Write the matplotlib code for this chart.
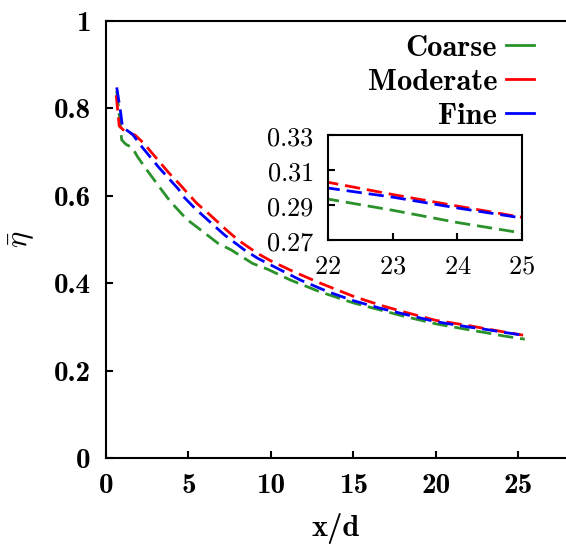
import numpy as np
import matplotlib
matplotlib.use('Agg')
import matplotlib.pyplot as plt
from matplotlib.lines import Line2D

plt.rcParams['mathtext.fontset'] = 'cm'
plt.rcParams['font.family'] = 'serif'

# Coarse mesh
x_coarse = [0.65, 0.85, 0.95, 1.2, 1.6, 1.9, 2.4, 3.3, 3.9, 4.9, 5.6, 6.8, 7.6, 8.9, 9.8,
            11.2, 13.0, 15.0, 16.6, 18.0, 20.0, 22.0, 23.0, 24.0, 25.0, 25.4]
y_coarse = [0.84, 0.77, 0.728, 0.718, 0.71, 0.69, 0.663, 0.617, 0.587, 0.546, 0.526, 0.491,
            0.476, 0.445, 0.432, 0.407, 0.38, 0.355, 0.339, 0.325, 0.307, 0.2934, 0.287,
            0.280, 0.274, 0.272]

# Moderate mesh
x_mod = [0.62, 0.8, 1.15, 1.76, 2.27, 2.9, 3.8, 4.5, 5.5, 6.2, 7.3, 8.0, 9.2, 10.0, 11.4,
         13.0, 15.0, 16.6, 18.0, 20.0, 22.0, 23.0, 24.0, 25.0, 25.3]
y_mod = [0.83, 0.76, 0.747, 0.739, 0.721, 0.693, 0.653, 0.625, 0.583, 0.56, 0.522, 0.499,
         0.468, 0.451, 0.426, 0.40, 0.37, 0.35, 0.335, 0.315, 0.303, 0.296, 0.2894, 0.283,
         0.281]

# Fine mesh
x_fine = [0.65, 0.89, 1.0, 1.6, 2.2, 3.2, 3.8, 4.4, 4.7, 5.4, 6.4, 7.2, 8.4, 9.2, 10.6,
          11.8, 13.5, 15.0, 16.6, 18.0, 20.0, 22.0, 23.0, 24.0, 25.0, 25.4]
y_fine = [0.848, 0.79, 0.757, 0.741, 0.711, 0.665, 0.64, 0.615, 0.598, 0.571, 0.537, 0.51,
          0.476, 0.457, 0.43, 0.407, 0.38, 0.36, 0.343, 0.33, 0.312, 0.2997, 0.2945,
          0.2883, 0.2826, 0.280]

labels = ['Coarse', 'Moderate', 'Fine']
colors = ['#2a922a', '#ff0000', '#0000ff']

xticks = [0, 5, 10, 15, 20, 25]
xtick_labels = ['0', '5', '10', '15', '20', '25']
yticks = [0, 0.2, 0.4, 0.6, 0.8, 1.0]
ytick_labels = ['0', '0.2', '0.4', '0.6', '0.8', '1']
in_xticks = [22, 23, 24, 25]
in_xtick_labels = [r'$22$', r'$23$', r'$24$', r'$25$']
in_yticks = [0.27, 0.29, 0.31, 0.33]
in_ytick_labels = [r'$0.27$', r'$0.29$', r'$0.31$', r'$0.33$']

fs = 21
lw = 2.0
dash = (5.5, 2.5)
bold = 'cmb10'

fig = plt.figure(figsize=(5.66, 5.5), dpi=100)
ax = fig.add_axes([0.1873, 0.1673, 0.8127, 0.7945])

xs = [x_coarse, x_mod, x_fine]
ys = [y_coarse, y_mod, y_fine]
for xx, yy, c in zip(xs, ys, colors):
    ax.plot(xx, yy, color=c, lw=lw, dashes=dash)

ax.set_xlim(0, 27.9)
ax.set_ylim(0, 1)
ax.set_xticks(xticks, labels=xtick_labels, fontsize=fs, family=bold)
ax.set_yticks(yticks, labels=ytick_labels, fontsize=fs, family=bold)
ax.tick_params(direction='in', length=5, width=1.5, pad=11)
ax.spines['right'].set_visible(False)
for s in ['left', 'bottom', 'top']:
    ax.spines[s].set_linewidth(1.5)
ax.set_xlabel('x/d', fontsize=22, family=bold, labelpad=10)
ax.set_ylabel(r'$\bar{\eta}$', fontsize=22, labelpad=12)

handles = [Line2D([], [], color=c, lw=lw) for c in colors]
ax.legend(handles, labels, loc='upper right', bbox_to_anchor=(0.93, 0.97),
          frameon=False, markerfirst=False, prop={'family': bold, 'size': 22},
          handlelength=0.9, handletextpad=0.3, labelspacing=0.22,
          borderaxespad=0, borderpad=0)

# inset
axin = fig.add_axes([0.5795, 0.5636, 0.3428, 0.1909])
for xx, yy, c in zip(xs, ys, colors):
    axin.plot(xx, yy, color=c, lw=lw, dashes=dash)
axin.set_xlim(22, 25)
axin.set_ylim(0.27, 0.33)
axin.set_xticks(in_xticks, labels=in_xtick_labels, fontsize=19)
axin.set_yticks(in_yticks, labels=in_ytick_labels, fontsize=19)
axin.tick_params(direction='in', length=5, width=1.5, pad=10)
for s in axin.spines.values():
    s.set_linewidth(1.5)

fig.savefig('out.png', dpi=100)
